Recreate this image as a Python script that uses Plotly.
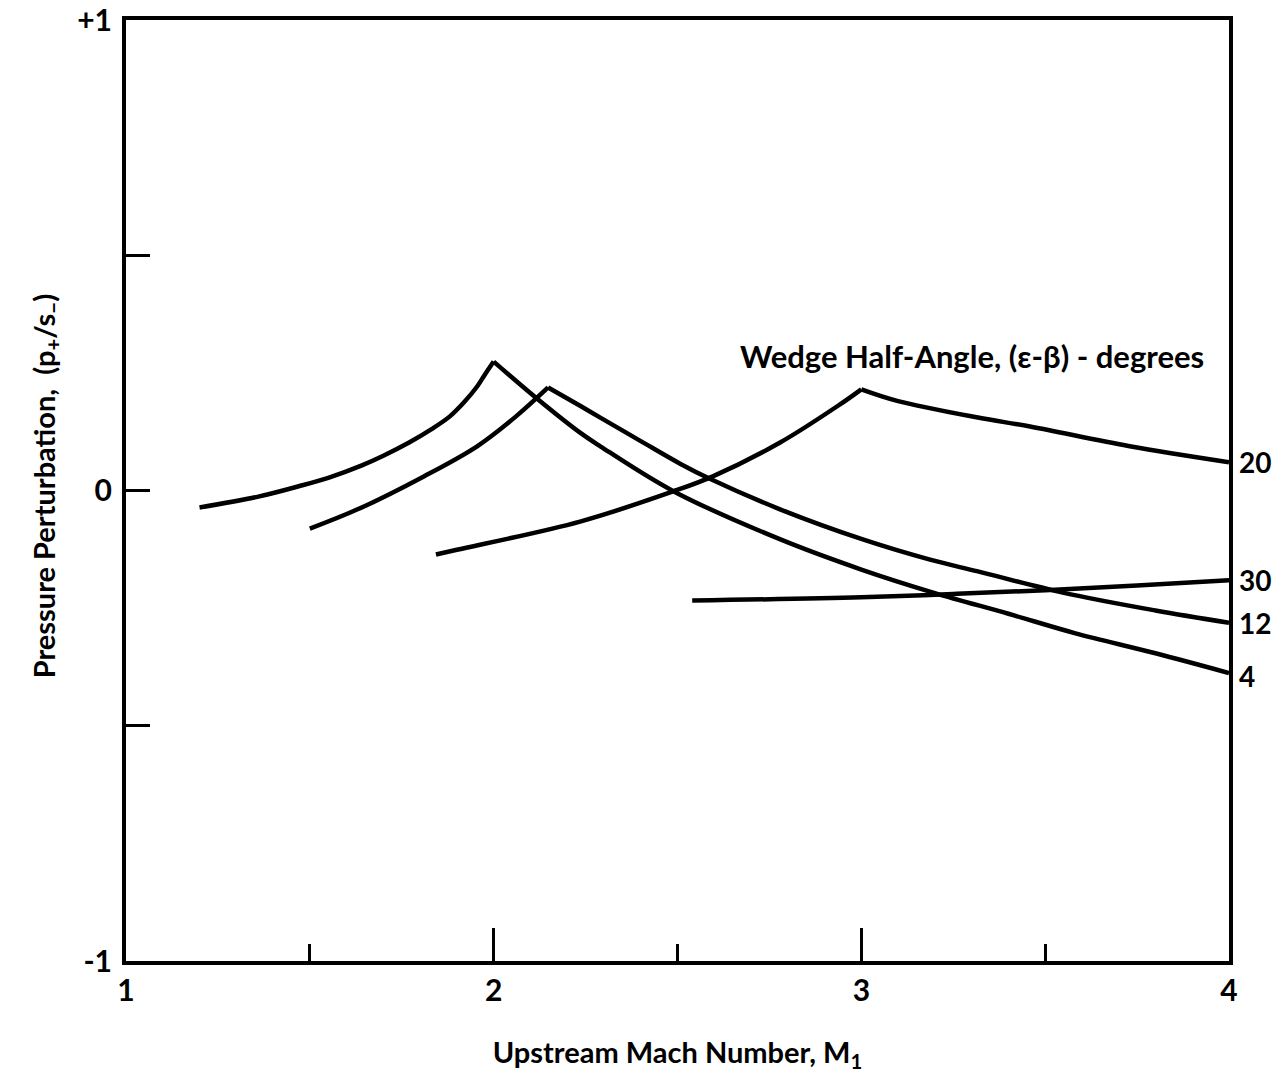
import plotly.graph_objects as go

# Upstream Mach number vs pressure perturbation for several wedge half-angles
mach_4 = [1.20, 1.36, 1.47, 1.55, 1.64, 1.70, 1.77, 1.83, 1.88, 1.92, 1.955, 1.975, 2.00,
          2.12, 2.235, 2.29, 2.49, 2.78, 3.00, 3.20, 3.40, 3.58, 3.80, 4.00]
p_4 = [-0.036, -0.013, 0.009, 0.027, 0.053, 0.074, 0.102, 0.130, 0.157, 0.188, 0.221, 0.245, 0.274,
       0.194, 0.123, 0.094, -0.002, -0.104, -0.168, -0.218, -0.262, -0.303, -0.346, -0.388]

mach_12 = [1.50, 1.63, 1.81, 1.955, 2.06, 2.148,
           2.235, 2.29, 2.40, 2.507, 2.588, 2.779, 3.004, 3.187, 3.317, 3.548, 3.80, 4.00]
p_12 = [-0.081, -0.040, 0.030, 0.094, 0.157, 0.219,
        0.180, 0.155, 0.105, 0.057, 0.025, -0.040, -0.104, -0.147, -0.172, -0.217, -0.255, -0.281]

mach_20 = [1.843, 1.90, 2.235, 2.488, 2.596, 2.779, 2.942, 3.00, 3.10, 3.317, 3.459, 3.73, 4.00]
p_20 = [-0.136, -0.126, -0.066, -0.002, 0.030, 0.102, 0.183, 0.215, 0.190, 0.155, 0.136, 0.094, 0.060]

mach_30 = [2.54, 3.00, 3.25, 3.50, 3.75, 4.00]
p_30 = [-0.234, -0.227, -0.220, -0.212, -0.202, -0.191]

angle_labels = ["4", "12", "20", "30"]
curves = [(mach_4, p_4), (mach_12, p_12), (mach_20, p_20), (mach_30, p_30)]

x_tickvals = [1, 2, 3, 4]
x_ticktext = ["1", "2", "3", "4"]
y_tickvals = [-1, -0.5, 0, 0.5, 1]
y_ticktext = ["-1", "", "0", "", "+1"]

FONT = "Lato"
INK = "#000000"


def bold(items):
    return [f"<b>{t}</b>" if t else "" for t in items]


fig = go.Figure()

for (mx, py), lab in zip(curves, angle_labels):
    # split each curve at its peak so the cusp stays sharp
    k = py.index(max(py))
    segments = [(mx[:k + 1], py[:k + 1]), (mx[k:], py[k:])] if 0 < k < len(py) - 1 else [(mx, py)]
    for sx, sy in segments:
        fig.add_trace(go.Scatter(
            x=sx, y=sy, mode="lines",
            line=dict(color=INK, width=4.5, shape="spline", smoothing=1.0),
            showlegend=False, hoverinfo="skip",
        ))
    # angle label just outside the right frame
    fig.add_annotation(
        x=mx[-1], y=py[-1], text=f"<b>{lab}</b>", showarrow=False,
        xanchor="left", yanchor="middle", xshift=8, yshift=-3 if lab == "4" else 0,
        font=dict(family=FONT, size=28, color=INK),
    )

fig.add_annotation(
    x=3.3, y=0.285, text="<b>Wedge Half-Angle, (\u03b5-\u03b2) - degrees</b>",
    showarrow=False, xanchor="center", yanchor="middle",
    font=dict(family=FONT, size=31, color=INK),
)

# y-axis title, rotated, with the p+/s- ratio
fig.add_annotation(
    xref="paper", yref="paper", x=-0.073, y=0.505,
    text="<b>Pressure Perturbation,  (p<sub>+</sub>/s<sub>\u2212</sub>)</b>",
    textangle=-90, showarrow=False, xanchor="center", yanchor="middle",
    font=dict(family=FONT, size=29, color=INK),
)

fig.update_layout(
    width=1288, height=1073,
    margin=dict(l=126, r=59, t=20, b=112),
    paper_bgcolor="white", plot_bgcolor="white",
    font=dict(family=FONT, color=INK),
    xaxis=dict(
        range=[1, 4], tickmode="array", tickvals=x_tickvals, ticktext=bold(x_ticktext),
        ticks="inside", ticklen=33, tickwidth=3, tickcolor=INK,
        minor=dict(dtick=0.5, ticks="inside", ticklen=17, tickwidth=3, tickcolor=INK),
        showline=True, linewidth=4, linecolor=INK, mirror=True,
        showgrid=False, zeroline=False, automargin=False,
        tickfont=dict(family=FONT, size=30, color=INK),
        ticklabelstandoff=0,
        title=dict(text="<b>Upstream Mach Number, M<sub>1</sub></b>",
                   font=dict(family=FONT, size=29, color=INK), standoff=40),
    ),
    yaxis=dict(
        range=[-1, 1], tickmode="array", tickvals=y_tickvals, ticktext=bold(y_ticktext),
        ticks="inside", ticklen=24, tickwidth=3, tickcolor=INK,
        showline=True, linewidth=4, linecolor=INK, mirror=True,
        showgrid=False, zeroline=False, automargin=False,
        tickfont=dict(family=FONT, size=30, color=INK),
        ticklabelstandoff=4,
    ),
)

fig.write_html("out.html")
